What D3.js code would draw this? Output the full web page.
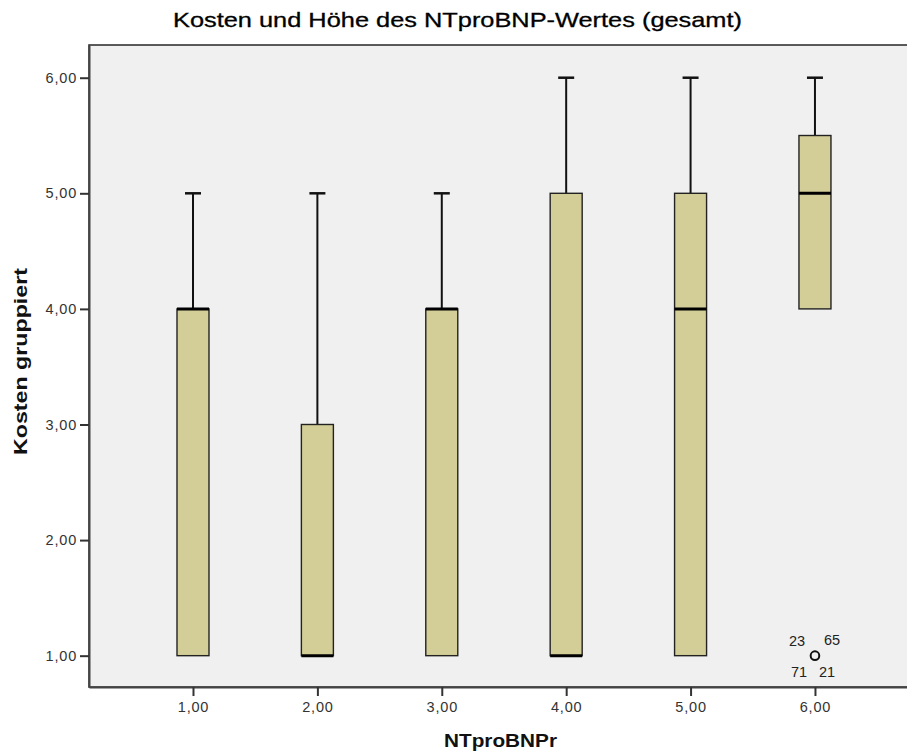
<!DOCTYPE html>
<html>
<head>
<meta charset="utf-8">
<script src="https://cdn.jsdelivr.net/npm/d3@7"></script>
<style>
  body { margin: 0; background: #fff; }
  svg { display: block; font-family: "Liberation Sans", Arial, sans-serif; }
</style>
</head>
<body>
<div class="chart-container"></div>
<script>
// Box plot values
const groups = [1, 2, 3, 4, 5, 6];
const groupLabels = ["1,00", "2,00", "3,00", "4,00", "5,00", "6,00"];
const whiskerLow = [1, 1, 1, 1, 1, 4];
const q1 = [1, 1, 1, 1, 1, 4];
const median = [4, 1, 4, 1, 4, 5];
const q3 = [4, 3, 4, 5, 5, 5.5];
const whiskerHigh = [5, 5, 5, 6, 6, 6];
const yTicks = [1, 2, 3, 4, 5, 6];
const outlierGroup = [6];
const outlierValue = [1];
const outlierIds = [["23", "65", "71", "21"]];

const w = 907, h = 755;
const plot = { left: 89, top: 45, right: 910, bottom: 687 };
const fmt = (d) => d3.format(".2f")(d).replace(".", ",");

const svg = d3.select(".chart-container").append("svg")
    .attr("width", w)
    .attr("height", h);

// Scales
const xScale = d3.scaleLinear()
    .domain([0.164, 6.764])
    .range([plot.left, plot.right]);

const yScale = d3.scaleLinear()
    .domain([0.729, 6.283])
    .range([plot.bottom, plot.top]);

// Plot background
svg.append("rect")
    .attr("x", plot.left)
    .attr("y", plot.top)
    .attr("width", plot.right - plot.left)
    .attr("height", plot.bottom - plot.top)
    .attr("fill", "#f0f0f0")
    .attr("stroke", "#333")
    .attr("stroke-width", 1.6);

// Title
svg.append("text")
    .attr("x", 173)
    .attr("y", 27)
    .attr("textLength", 569)
    .attr("lengthAdjust", "spacingAndGlyphs")
    .attr("font-size", 21)
    .attr("fill", "#000")
    .attr("stroke", "#000")
    .attr("stroke-width", 0.3)
    .text("Kosten und Höhe des NTproBNP-Wertes (gesamt)");

// Axes
const yAxis = d3.axisLeft(yScale).tickValues(yTicks).tickFormat(fmt)
    .tickSizeInner(9).tickSizeOuter(0).tickPadding(3);
const gy = svg.append("g")
    .attr("transform", `translate(${plot.left},0)`)
    .call(yAxis);

const xAxis = d3.axisBottom(xScale).tickValues(groups).tickFormat((d, i) => groupLabels[i])
    .tickSizeInner(9).tickSizeOuter(0).tickPadding(6);
const gx = svg.append("g")
    .attr("transform", `translate(0,${plot.bottom})`)
    .call(xAxis);

[gx, gy].forEach((g) => {
    g.select(".domain").attr("stroke", "#444").attr("stroke-width", 2);
    g.selectAll(".tick line").attr("stroke", "#333").attr("stroke-width", 2);
    g.selectAll(".tick text")
        .attr("fill", "#333")
        .attr("font-size", 14.5)
        .attr("letter-spacing", 0.8)
        .attr("font-family", "Liberation Sans, Arial, sans-serif");
});

// Axis labels
svg.append("text")
    .attr("x", 444)
    .attr("y", 747)
    .attr("textLength", 113)
    .attr("lengthAdjust", "spacingAndGlyphs")
    .attr("font-size", 19)
    .attr("font-weight", "bold")
    .attr("fill", "#111")
    .text("NTproBNPr");

svg.append("text")
    .attr("transform", "translate(27,455) rotate(-90)")
    .attr("textLength", 187)
    .attr("lengthAdjust", "spacingAndGlyphs")
    .attr("font-size", 19)
    .attr("font-weight", "bold")
    .attr("fill", "#111")
    .text("Kosten gruppiert");

// Boxes
const boxW = 32, capW = 16;
const boxes = svg.append("g")
    .selectAll("g")
    .data(groups)
    .join("g");

// whiskers
boxes.append("line")
    .attr("x1", (d) => xScale(d)).attr("x2", (d) => xScale(d))
    .attr("y1", (d, i) => yScale(whiskerHigh[i]))
    .attr("y2", (d, i) => yScale(q3[i]))
    .attr("stroke", "#111").attr("stroke-width", 2);
boxes.append("line")
    .attr("x1", (d) => xScale(d)).attr("x2", (d) => xScale(d))
    .attr("y1", (d, i) => yScale(whiskerLow[i]))
    .attr("y2", (d, i) => yScale(q1[i]))
    .attr("stroke", "#111").attr("stroke-width", 2);
boxes.append("line")
    .attr("x1", (d) => xScale(d) - capW / 2).attr("x2", (d) => xScale(d) + capW / 2)
    .attr("y1", (d, i) => yScale(whiskerHigh[i]))
    .attr("y2", (d, i) => yScale(whiskerHigh[i]))
    .attr("stroke", "#111").attr("stroke-width", 2.5);
boxes.filter((d, i) => whiskerLow[i] < q1[i]).append("line")
    .attr("x1", (d) => xScale(d) - capW / 2).attr("x2", (d) => xScale(d) + capW / 2)
    .attr("y1", (d) => yScale(whiskerLow[groups.indexOf(d)]))
    .attr("y2", (d) => yScale(whiskerLow[groups.indexOf(d)]))
    .attr("stroke", "#111").attr("stroke-width", 2.5);

boxes.append("rect")
    .attr("x", (d) => xScale(d) - boxW / 2)
    .attr("y", (d, i) => yScale(q3[i]))
    .attr("width", boxW)
    .attr("height", (d, i) => yScale(q1[i]) - yScale(q3[i]))
    .attr("fill", "#d3ce97")
    .attr("stroke", "#222")
    .attr("stroke-width", 1.4);

boxes.append("line")
    .attr("x1", (d) => xScale(d) - boxW / 2).attr("x2", (d) => xScale(d) + boxW / 2)
    .attr("y1", (d, i) => yScale(median[i]))
    .attr("y2", (d, i) => yScale(median[i]))
    .attr("stroke", "#000").attr("stroke-width", 3);

// Outliers
const out = svg.append("g")
    .selectAll("g")
    .data(outlierGroup)
    .join("g")
    .attr("transform", (d, i) => `translate(${xScale(d)},${yScale(outlierValue[i])})`);

out.append("circle")
    .attr("r", 4.3)
    .attr("fill", "none")
    .attr("stroke", "#111")
    .attr("stroke-width", 2);

const labelOffsets = [[-18, -10], [17, -11], [-16, 21], [12, 21]];
out.each(function(d, i) {
    d3.select(this).selectAll("text")
        .data(outlierIds[i])
        .join("text")
        .attr("x", (t, j) => labelOffsets[j][0])
        .attr("y", (t, j) => labelOffsets[j][1])
        .attr("text-anchor", "middle")
        .attr("font-size", 14.5)
        .attr("fill", "#222")
        .text((t) => t);
});
</script>
</body>
</html>
